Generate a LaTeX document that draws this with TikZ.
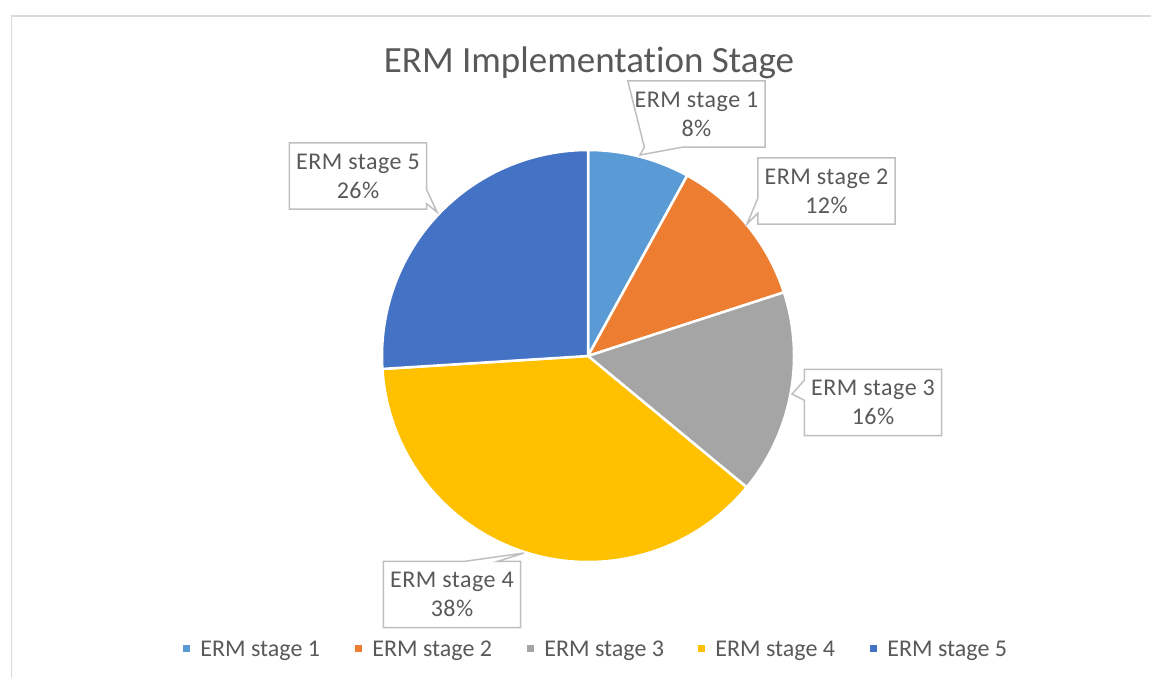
\documentclass[tikz,border=0pt]{standalone}
\usepackage{fontspec}
\setmainfont{Carlito}[Ligatures=NoCommon]
\newfontfamily\labelfont{Carlito}[Ligatures=NoCommon, LetterSpace=2]
\usetikzlibrary{calc}

\definecolor{cA}{HTML}{5B9BD5}
\definecolor{cB}{HTML}{ED7D31}
\definecolor{cC}{HTML}{A5A5A5}
\definecolor{cD}{HTML}{FFC000}
\definecolor{cE}{HTML}{4472C4}
\definecolor{txt}{HTML}{595959}
\definecolor{calloutline}{HTML}{BFBFBF}
\definecolor{framecol}{HTML}{D9D9D9}

\tikzset{
  slice/.style={draw=white, line width=2.5pt, line join=round},
  lbl/.style={minimum width=137pt, minimum height=66pt, inner sep=0pt,
    align=center, text=txt, font=\labelfont\fontsize{24}{29}\selectfont},
  balloon/.style={draw=calloutline, line width=1.5pt, fill=white, line join=miter},
  legkey/.style={minimum size=7pt, inner sep=0pt},
  legtext/.style={anchor=base west, inner sep=0pt, text=txt,
    font=\fontsize{24}{28}\selectfont},
}

\begin{document}
\begin{tikzpicture}[x=1pt, y=-1pt]
\useasboundingbox (0,0) rectangle (1151,678);
\fill[white] (0,0) rectangle (1151,678);

% chart frame
\draw[framecol, line width=1.5pt] (11.5,678) -- (11.5,16) -- (1151,16);

% title
\node[anchor=base, inner sep=0pt, text=txt, font=\fontsize{37}{44}\selectfont]
  (title) at (589,72) {ERM Implementation Stage};

% pie (angles clockwise from east, since y points down)
\coordinate (c) at (588,356);
\def\R{206}
\filldraw[slice, fill=cA] (c) -- ++(-90:\R) arc[start angle=-90, end angle=-61.2, radius=\R] -- cycle;
\filldraw[slice, fill=cB] (c) -- ++(-61.2:\R) arc[start angle=-61.2, end angle=-18, radius=\R] -- cycle;
\filldraw[slice, fill=cC] (c) -- ++(-18:\R) arc[start angle=-18, end angle=39.6, radius=\R] -- cycle;
\filldraw[slice, fill=cD] (c) -- ++(39.6:\R) arc[start angle=39.6, end angle=176.4, radius=\R] -- cycle;
\filldraw[slice, fill=cE] (c) -- ++(176.4:\R) arc[start angle=176.4, end angle=270, radius=\R] -- cycle;

% data labels
\node[lbl] (l1) at (696.5,114) {};
\node[lbl] (l2) at (826.5,191) {};
\node[lbl] (l3) at (873,402.5) {};
\node[lbl] (l4) at (452,594.5) {};
\node[lbl] (l5) at (358,176) {};

\coordinate (p1) at (640,155);
\coordinate (p2) at (747,224);
\coordinate (p3) at (792,394);
\coordinate (p4) at (524,553);
\coordinate (p5) at (437,212);

\draw[balloon] (l1.north west) -- (l1.north east) -- (l1.south east)
  -- ($(l1.south west)+(54.5,0)$) -- (p1) -- ($(l1.south west)+(16.5,0)$) -- cycle;
\draw[balloon] (l2.north west) -- (l2.north east) -- (l2.south east) -- (l2.south west)
  -- ($(l2.south west)+(0,-11)$) -- (p2) -- ($(l2.south west)+(0,-26)$) -- cycle;
\draw[balloon] (l3.north west) -- (l3.north east) -- (l3.south east) -- (l3.south west)
  -- ($(l3.north west)+(0,31)$) -- (p3) -- ($(l3.north west)+(0,11)$) -- cycle;
\draw[balloon] (l4.north west) -- ($(l4.north west)+(81.5,0)$) -- (p4)
  -- ($(l4.north west)+(114.5,0)$) -- (l4.north east) -- (l4.south east) -- (l4.south west) -- cycle;
\draw[balloon] (l5.north west) -- (l5.north east) -- ($(l5.north east)+(0,47)$) -- (p5)
  -- ($(l5.north east)+(0,61)$) -- (l5.south east) -- (l5.south west) -- cycle;

\node[lbl] at (l1) {ERM stage 1\\8\%};
\node[lbl] at (l2) {ERM stage 2\\12\%};
\node[lbl] at (l3) {ERM stage 3\\16\%};
\node[lbl] at (l4) {ERM stage 4\\38\%};
\node[lbl] at (l5) {ERM stage 5\\26\%};

% legend
\foreach \i/\col/\x in {1/cA/186.5, 2/cB/358.5, 3/cC/530.5, 4/cD/701.5, 5/cE/873.5}{
  \node[legkey, fill=\col] (k\i) at (\x,648.5) {};
  \node[legtext] (t\i) at ($(k\i.east)+(10,7.5)$) {ERM stage \i};
}
\end{tikzpicture}
\end{document}
